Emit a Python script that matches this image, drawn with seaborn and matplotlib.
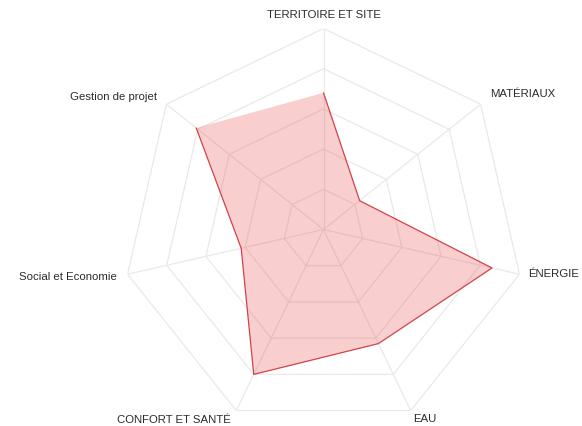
import numpy as np
import matplotlib
matplotlib.use("Agg")
import matplotlib.pyplot as plt
import seaborn as sns

# Scores per theme (0-100), clockwise from the top
categories = ["TERRITOIRE ET SITE", "MATÉRIAUX", "ÉNERGIE", "EAU",
              "CONFORT ET SANTÉ", "Social et Economie", "Gestion de projet"]
scores = [68, 23, 86, 63, 80, 42, 81]
grid_levels = [20, 40, 60, 80, 100]

# label placement: (dx, dy) in points from the outer vertex, ha, va
label_offsets = [(0, 6, "center", "bottom"), (7, 7, "left", "center"),
                 (6, 0, "left", "center"), (2, -6, "left", "center"),
                 (-4, -7, "right", "center"), (-8, -2, "right", "center"),
                 (-7, 5, "right", "center")]

sns.set_theme(style="white")
plt.rcParams["font.family"] = ["Liberation Sans", "DejaVu Sans"]

n = len(categories)
theta = np.pi / 2 - 2 * np.pi * np.arange(n) / n
theta_closed = np.append(theta, theta[0])

fig = plt.figure(figsize=(5.82, 4.26), dpi=100)
ax = fig.add_axes([0.2105, -0.0106, 0.6907, 0.9437], projection="polar")
ax.set_ylim(0, 100)
ax.grid(False)
ax.set_xticks([])
ax.set_yticks([])
ax.spines["polar"].set_visible(False)
ax.patch.set_alpha(0)

grid_color = "#e9e9e9"
for lvl in grid_levels:
    ax.plot(theta_closed, [lvl] * (n + 1), color=grid_color, lw=0.9, zorder=1)
for t in theta:
    ax.plot([t, t], [0, 100], color=grid_color, lw=0.9, zorder=1)

vals_closed = scores + scores[:1]
ax.fill(theta_closed, vals_closed, color="#e53935", alpha=0.24, lw=0, zorder=2)
sns.lineplot(x=theta_closed, y=vals_closed, sort=False, ax=ax,
             color="#d2424b", lw=0.9, zorder=3)
ax.set_xlabel("")
ax.set_ylabel("")

for t, name, (dx, dy, ha, va) in zip(theta, categories, label_offsets):
    ax.annotate(name, xy=(t, 100), xytext=(dx, dy), textcoords="offset points",
                ha=ha, va=va, fontsize=8.2, color="#2b2b2b", annotation_clip=False)

fig.savefig("out.png", dpi=100)
